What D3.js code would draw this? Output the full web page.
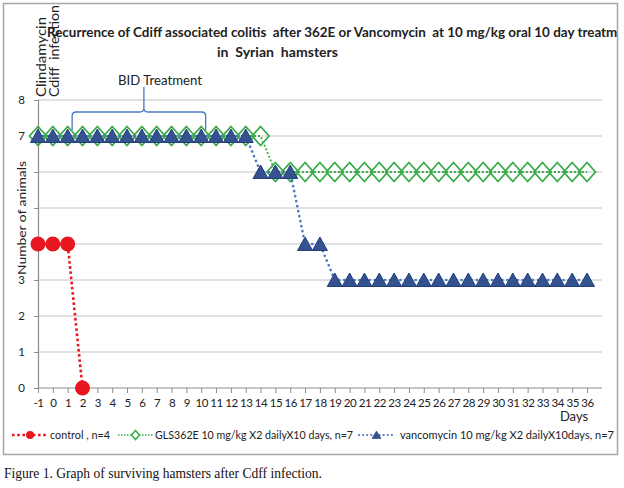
<!DOCTYPE html>
<html><head><meta charset="utf-8">
<script src="https://cdn.jsdelivr.net/npm/d3@7"></script>
<style>body{margin:0;background:#fff}svg{display:block}text{white-space:pre}</style>
</head><body>
<svg id="c" width="624" height="488"></svg>
<script>
// ---- data ----
const days = [-1,0,1,2,3,4,5,6,7,8,9,10,11,12,13,14,15,16,17,18,19,20,21,22,23,24,25,26,27,28,29,30,31,32,33,34,35,36];
const controlDays = [-1,0,1,2];
const controlValues = [4,4,4,0];
const glsValues = [7,7,7,7,7,7,7,7,7,7,7,7,7,7,7,7, 6,6,6,6,6,6,6,6,6,6,6,6,6,6,6,6,6,6,6,6,6,6];
const vancValues = [7,7,7,7,7,7,7,7,7,7,7,7,7,7,7, 6,6,6, 4,4, 3,3,3,3,3,3,3,3,3,3,3,3,3,3,3,3,3,3];
const yTicks = [0,1,2,3,4,5,6,7,8];
const seriesNames = ["control , n=4","GLS362E 10 mg/kg X2 dailyX10 days, n=7","vancomycin 10 mg/kg X2 dailyX10days, n=7"];
const titleLines = ["Recurrence of Cdiff associated colitis  after 362E or Vancomycin  at 10 mg/kg oral 10 day treatment","in  Syrian  hamsters"];
const bidStart = 1.3, bidEnd = 10.3;

const FONT = "Lato, 'Open Sans', sans-serif";
const RED = "#e8161e", GREEN = "#3aaa4a", BLUE = "#4a78c0", NAVY = "#233f7a", TRI = "#34528f";

const svg = d3.select("#c");
svg.append("rect").attr("width",624).attr("height",488).attr("fill","#fff");
svg.append("defs").append("clipPath").attr("id","box")
  .append("rect").attr("x",4).attr("y",4).attr("width",613).attr("height",451);

const x = d3.scaleLinear().domain([-1,36]).range([38,587]);
const y = d3.scaleLinear().domain([0,8]).range([388,100]);
const plotRight = 602;

// border
svg.append("rect").attr("x",3.5).attr("y",3.5).attr("width",614).attr("height",451)
  .attr("fill","none").attr("stroke","#a6a6a6").attr("stroke-width",1.5);

const g = svg.append("g").attr("clip-path","url(#box)");

// gridlines
g.append("g").selectAll("line").data(yTicks.filter(d=>d>0)).join("line")
  .attr("x1",x(-1)).attr("x2",plotRight).attr("y1",d=>y(d)).attr("y2",d=>y(d))
  .attr("stroke","#c4c4c4").attr("stroke-width",1.2);

// y axis
const ya = g.append("g").attr("transform",`translate(${x(-1)},0)`)
  .call(d3.axisLeft(y).tickValues(yTicks).tickSize(4).tickPadding(9).tickFormat(d=>String(d)));
ya.select(".domain").attr("stroke","#8c8c8c").attr("stroke-width",1.2);
ya.selectAll(".tick line").attr("stroke","#8c8c8c");
ya.selectAll("text").attr("font-family",FONT).attr("font-size",11.5).attr("fill","#222");

// x axis
const xa = g.append("g").attr("transform",`translate(0,${y(0)})`)
  .call(d3.axisBottom(x).tickValues(days).tickSize(5).tickPadding(6).tickFormat(d=>String(d)).tickSizeOuter(0));
xa.select(".domain").remove();
xa.append("line").attr("x1",x(-1)).attr("x2",plotRight).attr("stroke","#8c8c8c").attr("stroke-width",1.2);
xa.selectAll(".tick line").attr("stroke","#8c8c8c");
xa.selectAll("text").attr("font-family",FONT).attr("font-size",11.5).attr("fill","#222")
  .attr("letter-spacing",-0.4);

// axis titles
const yt = g.append("g").attr("transform","translate(22,218) rotate(-90)");
yt.append("rect").attr("x",-58).attr("y",-8).attr("width",116).attr("height",14).attr("fill","#fff");
yt.append("text").attr("text-anchor","middle").attr("y",4).attr("font-family",FONT).attr("font-size",12)
  .attr("fill","#222").attr("textLength",114).attr("lengthAdjust","spacingAndGlyphs").text("Number of animals");
g.append("text").attr("x",574).attr("y",421).attr("text-anchor","middle").attr("font-family",FONT)
  .attr("font-size",13).attr("fill","#222").text("Days");

// title
titleLines.forEach((t,i)=>{
  const tx = g.append("text").attr("x", i===0?47:217).attr("y", i===0?37:57)
    .attr("font-family",FONT).attr("font-weight","bold").attr("font-size",12.5).attr("fill","#222").text(t);
  if(i===0) tx.attr("textLength",590).attr("lengthAdjust","spacingAndGlyphs");
  else tx.attr("textLength",121).attr("lengthAdjust","spacingAndGlyphs");
});

// vertical annotations
[["Clindamycin",42,80],["Cdiff  infection",55,92]].forEach(([t,cx,len])=>{
  g.append("text").attr("transform",`translate(${cx+4},97) rotate(-90)`).attr("font-family",FONT)
   .attr("font-size",12.5).attr("fill","#222").attr("textLength",len).attr("lengthAdjust","spacingAndGlyphs").text(t);
});

// BID brace
const bx0 = x(bidStart), bx1 = x(bidEnd), bm = (bx0+bx1)/2 + 5;
const yb = 130, yh = 112, yp = 87;
g.append("path").attr("fill","none").attr("stroke",BLUE).attr("stroke-width",1.3)
  .attr("d",`M${bx0},${yb} L${bx0},${yh+4} Q${bx0},${yh} ${bx0+4},${yh} L${bm-4},${yh} Q${bm},${yh} ${bm},${yh-4} L${bm},${yp}
             M${bm},${yh-4} Q${bm},${yh} ${bm+4},${yh} L${bx1-4},${yh} Q${bx1},${yh} ${bx1},${yh+4} L${bx1},${yb}`);
g.append("text").attr("x",118).attr("y",85).attr("font-family",FONT).attr("font-size",12.5).attr("fill","#222")
  .attr("textLength",84).attr("lengthAdjust","spacingAndGlyphs").text("BID Treatment");

// series lines
const line = d3.line().x(d=>x(d[0])).y(d=>y(d[1]));
const ctrl = controlDays.map((d,i)=>[d,controlValues[i]]);
const gls = days.map((d,i)=>[d,glsValues[i]]);
const van = days.map((d,i)=>[d,vancValues[i]]);

g.append("path").datum(ctrl).attr("d",line).attr("fill","none").attr("stroke",RED)
  .attr("stroke-width",2.6).attr("stroke-dasharray","2.6 2.6");
g.append("g").selectAll("circle").data(ctrl).join("circle")
  .attr("cx",d=>x(d[0])).attr("cy",d=>y(d[1])).attr("r",7.5).attr("fill",RED);

g.append("path").datum(gls).attr("d",line).attr("fill","none").attr("stroke",GREEN)
  .attr("stroke-width",1.8).attr("stroke-dasharray","2 2");
const diamond = "M0,-9.5 L8.5,0 L0,9.5 L-8.5,0 Z";
g.append("g").selectAll("path").data(gls).join("path")
  .attr("transform",d=>`translate(${x(d[0])},${y(d[1])})`).attr("d",diamond)
  .attr("fill","#fff").attr("fill-opacity",0).attr("stroke",GREEN).attr("stroke-width",1.8);

g.append("path").datum(van).attr("d",line).attr("fill","none").attr("stroke",BLUE)
  .attr("stroke-width",2.6).attr("stroke-linecap","round").attr("stroke-dasharray","0.1 5");
const tri = "M0,-7 L7.5,6.5 L-7.5,6.5 Z";
g.append("g").selectAll("path").data(van).join("path")
  .attr("transform",d=>`translate(${x(d[0])},${y(d[1])})`).attr("d",tri)
  .attr("fill",TRI).attr("stroke",NAVY).attr("stroke-width",1);

// legend
const leg = g.append("g");
const legItems = [
  {x0:12,x1:48,name:seriesNames[0],tx:50,tw:60,color:RED,dash:"2.6 2.6",sw:2.6,m:"circle"},
  {x0:118,x1:153,name:seriesNames[1],tx:155,tw:198,color:GREEN,dash:"1.5 1.5",sw:1.3,m:"diamond"},
  {x0:359,x1:394,name:seriesNames[2],tx:400,tw:214,color:BLUE,dash:"0.1 4",sw:2.2,m:"tri"}
];
const ly = 435;
legItems.forEach(it=>{
  leg.append("line").attr("x1",it.x0).attr("x2",it.x1).attr("y1",ly).attr("y2",ly)
    .attr("stroke",it.color).attr("stroke-width",it.sw).attr("stroke-dasharray",it.dash).attr("stroke-linecap",it.m==="tri"?"round":"butt");
  const cx=(it.x0+it.x1)/2;
  if(it.m==="circle") leg.append("circle").attr("cx",cx).attr("cy",ly).attr("r",4).attr("fill",it.color);
  if(it.m==="diamond") leg.append("path").attr("transform",`translate(${cx},${ly})`).attr("d","M0,-4.5 L4,0 L0,4.5 L-4,0 Z")
    .attr("fill","#fff").attr("stroke",it.color).attr("stroke-width",1.5);
  if(it.m==="tri") leg.append("path").attr("transform",`translate(${cx},${ly})`).attr("d","M0,-4 L4.5,3.5 L-4.5,3.5 Z")
    .attr("fill",TRI).attr("stroke",NAVY).attr("stroke-width",0.6);
  leg.append("text").attr("x",it.tx).attr("y",ly+4).attr("font-family",FONT).attr("font-size",10.5).attr("fill","#222")
    .attr("textLength",it.tw).attr("lengthAdjust","spacingAndGlyphs").text(it.name);
});

// caption
svg.append("text").attr("x",4).attr("y",478).attr("font-family","'Liberation Serif', 'Times New Roman', serif")
  .attr("font-size",15).attr("fill","#111").attr("textLength",318).attr("lengthAdjust","spacingAndGlyphs")
  .text("Figure 1. Graph of surviving hamsters after Cdff infection.");
</script>
</body></html>
